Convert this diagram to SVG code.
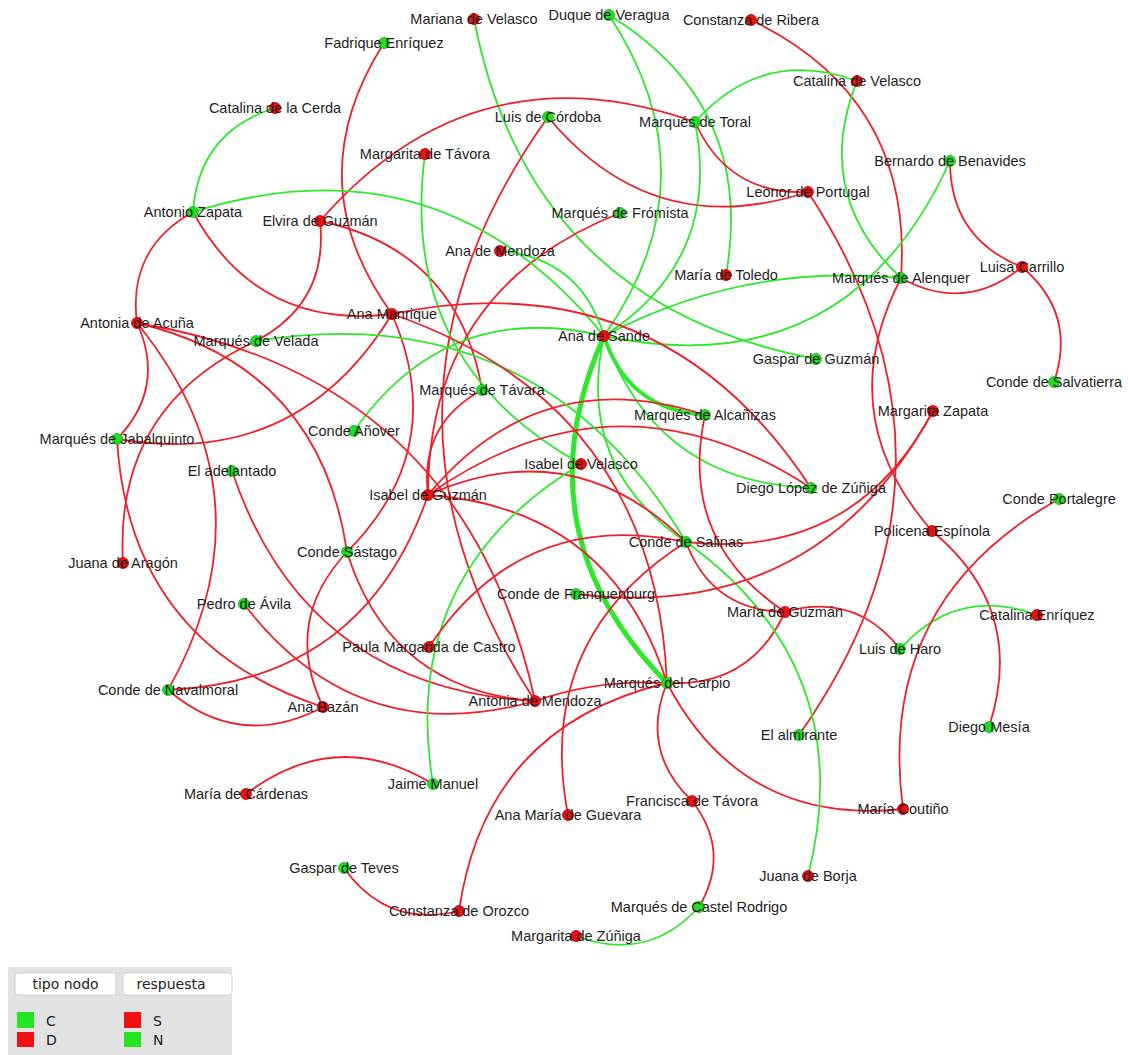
<svg xmlns="http://www.w3.org/2000/svg" width="1128" height="1055" viewBox="0 0 1128 1055">
<style>
.e{fill:none;stroke-width:1.8;stroke-linecap:round}
.r{stroke:#f0202a}
.g{stroke:#2ee82e}
.t4{stroke-width:4}
.t5{stroke-width:5}
.nr{fill:#e81010;stroke:#b80000;stroke-width:.8}
.ng{fill:#22dd22;stroke:#18b018;stroke-width:.8}
.lb{font-family:"Liberation Sans",Arial,sans-serif;font-size:14.5px;fill:#1e1e1e;text-anchor:middle}
.lg{font-family:"DejaVu Sans",sans-serif;font-size:14px;fill:#222}
</style>
<rect width="1128" height="1055" fill="#fff"/>
<g id="connectors">
<path class="e g" d="M474 19 Q529.4 305.3 816 359"/>
<path class="e g" d="M604 336 Q715.6 177.2 609 15"/>
<path class="e g" d="M726 275 Q755.9 105.2 609 15"/>
<path class="e r" d="M901 278 Q913.7 98 751 20"/>
<path class="e r" d="M384 43 Q295.9 181.2 392 314"/>
<path class="e r" d="M347 552 Q450.4 448.3 392 314"/>
<path class="e g" d="M857 81 Q762.1 46.4 695 122"/>
<path class="e g" d="M857 81 Q812 194.5 901 278"/>
<path class="e g" d="M604 336 Q722.3 259.9 695 122"/>
<path class="e r" d="M695 122 Q473.8 44 320 221"/>
<path class="e r" d="M695 122 Q727.7 195.4 808 192"/>
<path class="e r" d="M548 117 Q652.5 242.9 808 192"/>
<path class="e r" d="M548 117 Q342.9 404.6 535 701"/>
<path class="e r" d="M620 213 Q428.1 288.7 428 495"/>
<path class="e r" d="M482 390 Q458.5 250.4 320 221"/>
<path class="e r" d="M482 390 Q419.3 424.1 428 495"/>
<path class="e g" d="M425 154 Q397.6 362 581 464"/>
<path class="e r" d="M256 341 Q328.8 302.8 320 221"/>
<path class="e r" d="M256 341 Q114 406.8 123 563"/>
<path class="e g" d="M275 108 Q198.6 132.1 193 212"/>
<path class="e r" d="M193 212 Q127.3 248.5 137 323"/>
<path class="e r" d="M193 212 Q257.8 330.7 392 314"/>
<path class="e g" d="M604 336 Q440.7 134.3 193 212"/>
<path class="e r" d="M799 735 Q988.1 466.6 808 192"/>
<path class="e r" d="M901 278 Q830.5 415 932 531"/>
<path class="e r" d="M989 727 Q1027.1 609.6 932 531"/>
<path class="e r" d="M950 161 Q950 238.5 1022 267"/>
<path class="e r" d="M901 278 Q965.2 313.6 1022 267"/>
<path class="e r" d="M1054 382 Q1077.1 313.6 1022 267"/>
<path class="e g" d="M604 336 Q847 387 950 161"/>
<path class="e g" d="M901 278 Q743.8 262.4 604 336"/>
<path class="e g" d="M604 336 Q655.8 482.4 811 488"/>
<path class="e r" d="M811 488 Q660.7 258.5 392 314"/>
<path class="e g t4" d="M604 336 Q627.6 409.8 705 415"/>
<path class="e g t5" d="M604 336 Q517.5 530.9 667 683"/>
<path class="e g" d="M604 336 Q575 466.9 686 542"/>
<path class="e g" d="M604 336 Q446.7 298.5 354 431"/>
<path class="e r" d="M705 415 Q539.3 360.8 428 495"/>
<path class="e r" d="M811 488 Q617.1 361.3 428 495"/>
<path class="e r" d="M686 542 Q573 430.8 428 495"/>
<path class="e r" d="M667 683 Q611.4 507.7 428 495"/>
<path class="e r" d="M168 690 Q364.3 680.9 428 495"/>
<path class="e r" d="M168 690 Q239.7 751.2 323 707"/>
<path class="e r" d="M168 690 Q277.3 496 137 323"/>
<path class="e r" d="M117 439 Q166.4 387.8 137 323"/>
<path class="e r" d="M347 552 Q319.9 366.1 137 323"/>
<path class="e r" d="M535 701 Q464.5 376.7 137 323"/>
<path class="e r" d="M117 439 Q297 470 392 314"/>
<path class="e r" d="M117 439 Q128.9 643 323 707"/>
<path class="e r" d="M347 552 Q390.3 690.4 535 701"/>
<path class="e r" d="M347 552 Q282.3 621.3 323 707"/>
<path class="e r" d="M244 604 Q356.5 751.4 535 701"/>
<path class="e r" d="M232 471 Q305.3 689 535 701"/>
<path class="e r" d="M667 683 Q599.2 678.8 535 701"/>
<path class="e r" d="M667 683 Q750.1 687.6 785 612"/>
<path class="e r" d="M667 683 Q639.4 750.5 692 801"/>
<path class="e r" d="M667 683 Q742.2 826.2 903 809"/>
<path class="e r" d="M667 683 Q485.5 726.3 459 911"/>
<path class="e r" d="M344 868 Q386.9 928.6 459 911"/>
<path class="e r" d="M433 784 Q336.1 725.4 246 794"/>
<path class="e g" d="M581 464 Q398.2 573.7 433 784"/>
<path class="e r" d="M699 907 Q731.5 851.6 692 801"/>
<path class="e g" d="M576 936 Q647.4 963.3 699 907"/>
<path class="e g" d="M808 876 Q860.6 667.5 686 542"/>
<path class="e r" d="M686 542 Q711.7 610.7 785 612"/>
<path class="e r" d="M705 415 Q678 540.7 785 612"/>
<path class="e r" d="M900 649 Q855.1 591.4 785 612"/>
<path class="e g" d="M1037 615 Q956.9 585.4 900 649"/>
<path class="e r" d="M1059 499 Q875.6 601 903 809"/>
<path class="e r" d="M576 594 Q816.7 623.9 933 411"/>
<path class="e r" d="M686 542 Q854 560.5 933 411"/>
<path class="e r" d="M686 542 Q521.8 507.1 429 647"/>
<path class="e r" d="M686 542 Q534.2 638.4 568 815"/>
<path class="e g" d="M686 542 Q539.3 295.3 256 341"/>
<path class="e g" d="M604 336 Q580.9 258.1 500 251"/>
<path class="e r" d="M667 683 Q655 405 392 314"/>
</g>
<g id="nodes">
<g id="n-mariana-de-velasco"><circle class="nr" cx="474" cy="19" r="5.5"/><text class="lb" x="474" y="24">Mariana de Velasco</text></g>
<g id="n-duque-de-veragua"><circle class="ng" cx="609" cy="15" r="5.5"/><text class="lb" x="609" y="20">Duque de Veragua</text></g>
<g id="n-constanza-de-ribera"><circle class="nr" cx="751" cy="20" r="5.5"/><text class="lb" x="751" y="25">Constanza de Ribera</text></g>
<g id="n-fadrique-enriquez"><circle class="ng" cx="384" cy="43" r="5.5"/><text class="lb" x="384" y="48">Fadrique Enríquez</text></g>
<g id="n-catalina-de-velasco"><circle class="nr" cx="857" cy="81" r="5.5"/><text class="lb" x="857" y="86">Catalina de Velasco</text></g>
<g id="n-catalina-de-la-cerda"><circle class="nr" cx="275" cy="108" r="5.5"/><text class="lb" x="275" y="113">Catalina de la Cerda</text></g>
<g id="n-luis-de-cordoba"><circle class="ng" cx="548" cy="117" r="5.5"/><text class="lb" x="548" y="122">Luis de Córdoba</text></g>
<g id="n-marques-de-toral"><circle class="ng" cx="695" cy="122" r="5.5"/><text class="lb" x="695" y="127">Marqués de Toral</text></g>
<g id="n-margarita-de-tavora"><circle class="nr" cx="425" cy="154" r="5.5"/><text class="lb" x="425" y="159">Margarita de Távora</text></g>
<g id="n-bernardo-de-benavides"><circle class="ng" cx="950" cy="161" r="5.5"/><text class="lb" x="950" y="166">Bernardo de Benavides</text></g>
<g id="n-leonor-de-portugal"><circle class="nr" cx="808" cy="192" r="5.5"/><text class="lb" x="808" y="197">Leonor de Portugal</text></g>
<g id="n-antonio-zapata"><circle class="ng" cx="193" cy="212" r="5.5"/><text class="lb" x="193" y="217">Antonio Zapata</text></g>
<g id="n-elvira-de-guzman"><circle class="nr" cx="320" cy="221" r="5.5"/><text class="lb" x="320" y="226">Elvira de Guzmán</text></g>
<g id="n-marques-de-fromista"><circle class="ng" cx="620" cy="213" r="5.5"/><text class="lb" x="620" y="218">Marqués de Frómista</text></g>
<g id="n-ana-de-mendoza"><circle class="nr" cx="500" cy="251" r="5.5"/><text class="lb" x="500" y="256">Ana de Mendoza</text></g>
<g id="n-maria-de-toledo"><circle class="nr" cx="726" cy="275" r="5.5"/><text class="lb" x="726" y="280">María de Toledo</text></g>
<g id="n-luisa-carrillo"><circle class="nr" cx="1022" cy="267" r="5.5"/><text class="lb" x="1022" y="272">Luisa Carrillo</text></g>
<g id="n-marques-de-alenquer"><circle class="ng" cx="901" cy="278" r="5.5"/><text class="lb" x="901" y="283">Marqués de Alenquer</text></g>
<g id="n-antonia-de-acuna"><circle class="nr" cx="137" cy="323" r="5.5"/><text class="lb" x="137" y="328">Antonia de Acuña</text></g>
<g id="n-marques-de-velada"><circle class="ng" cx="256" cy="341" r="5.5"/><text class="lb" x="256" y="346">Marqués de Velada</text></g>
<g id="n-ana-manrique"><circle class="nr" cx="392" cy="314" r="5.5"/><text class="lb" x="392" y="319">Ana Manrique</text></g>
<g id="n-ana-de-sande"><circle class="nr" cx="604" cy="336" r="5.5"/><text class="lb" x="604" y="341">Ana de Sande</text></g>
<g id="n-gaspar-de-guzman"><circle class="ng" cx="816" cy="359" r="5.5"/><text class="lb" x="816" y="364">Gaspar de Guzmán</text></g>
<g id="n-conde-de-salvatierra"><circle class="ng" cx="1054" cy="382" r="5.5"/><text class="lb" x="1054" y="387">Conde de Salvatierra</text></g>
<g id="n-marques-de-tavara"><circle class="ng" cx="482" cy="390" r="5.5"/><text class="lb" x="482" y="395">Marqués de Távara</text></g>
<g id="n-conde-anover"><circle class="ng" cx="354" cy="431" r="5.5"/><text class="lb" x="354" y="436">Conde Añover</text></g>
<g id="n-marques-de-jabalquinto"><circle class="ng" cx="117" cy="439" r="5.5"/><text class="lb" x="117" y="444">Marqués de Jabalquinto</text></g>
<g id="n-marques-de-alcanizas"><circle class="ng" cx="705" cy="415" r="5.5"/><text class="lb" x="705" y="420">Marqués de Alcañizas</text></g>
<g id="n-margarita-zapata"><circle class="nr" cx="933" cy="411" r="5.5"/><text class="lb" x="933" y="416">Margarita Zapata</text></g>
<g id="n-isabel-de-velasco"><circle class="nr" cx="581" cy="464" r="5.5"/><text class="lb" x="581" y="469">Isabel de Velasco</text></g>
<g id="n-el-adelantado"><circle class="ng" cx="232" cy="471" r="5.5"/><text class="lb" x="232" y="476">El adelantado</text></g>
<g id="n-isabel-de-guzman"><circle class="nr" cx="428" cy="495" r="5.5"/><text class="lb" x="428" y="500">Isabel de Guzmán</text></g>
<g id="n-diego-lopez-de-zuniga"><circle class="ng" cx="811" cy="488" r="5.5"/><text class="lb" x="811" y="493">Diego López de Zúñiga</text></g>
<g id="n-conde-portalegre"><circle class="ng" cx="1059" cy="499" r="5.5"/><text class="lb" x="1059" y="504">Conde Portalegre</text></g>
<g id="n-policena-espinola"><circle class="nr" cx="932" cy="531" r="5.5"/><text class="lb" x="932" y="536">Policena Espínola</text></g>
<g id="n-juana-de-aragon"><circle class="nr" cx="123" cy="563" r="5.5"/><text class="lb" x="123" y="568">Juana de Aragón</text></g>
<g id="n-conde-sastago"><circle class="ng" cx="347" cy="552" r="5.5"/><text class="lb" x="347" y="557">Conde Sástago</text></g>
<g id="n-conde-de-salinas"><circle class="ng" cx="686" cy="542" r="5.5"/><text class="lb" x="686" y="547">Conde de Salinas</text></g>
<g id="n-conde-de-franquenburg"><circle class="ng" cx="576" cy="594" r="5.5"/><text class="lb" x="576" y="599">Conde de Franquenburg</text></g>
<g id="n-pedro-de-avila"><circle class="ng" cx="244" cy="604" r="5.5"/><text class="lb" x="244" y="609">Pedro de Ávila</text></g>
<g id="n-maria-de-guzman"><circle class="nr" cx="785" cy="612" r="5.5"/><text class="lb" x="785" y="617">María de Guzmán</text></g>
<g id="n-catalina-enriquez"><circle class="nr" cx="1037" cy="615" r="5.5"/><text class="lb" x="1037" y="620">Catalina Enríquez</text></g>
<g id="n-luis-de-haro"><circle class="ng" cx="900" cy="649" r="5.5"/><text class="lb" x="900" y="654">Luis de Haro</text></g>
<g id="n-paula-margarida-de-castro"><circle class="nr" cx="429" cy="647" r="5.5"/><text class="lb" x="429" y="652">Paula Margarida de Castro</text></g>
<g id="n-marques-del-carpio"><circle class="ng" cx="667" cy="683" r="5.5"/><text class="lb" x="667" y="688">Marqués del Carpio</text></g>
<g id="n-conde-de-navalmoral"><circle class="ng" cx="168" cy="690" r="5.5"/><text class="lb" x="168" y="695">Conde de Navalmoral</text></g>
<g id="n-antonia-de-mendoza"><circle class="nr" cx="535" cy="701" r="5.5"/><text class="lb" x="535" y="706">Antonia de Mendoza</text></g>
<g id="n-ana-bazan"><circle class="nr" cx="323" cy="707" r="5.5"/><text class="lb" x="323" y="712">Ana Bazán</text></g>
<g id="n-diego-mesia"><circle class="ng" cx="989" cy="727" r="5.5"/><text class="lb" x="989" y="732">Diego Mesía</text></g>
<g id="n-el-almirante"><circle class="ng" cx="799" cy="735" r="5.5"/><text class="lb" x="799" y="740">El almirante</text></g>
<g id="n-jaime-manuel"><circle class="ng" cx="433" cy="784" r="5.5"/><text class="lb" x="433" y="789">Jaime Manuel</text></g>
<g id="n-maria-de-cardenas"><circle class="nr" cx="246" cy="794" r="5.5"/><text class="lb" x="246" y="799">María de Cárdenas</text></g>
<g id="n-francisca-de-tavora"><circle class="nr" cx="692" cy="801" r="5.5"/><text class="lb" x="692" y="806">Francisca de Távora</text></g>
<g id="n-maria-coutino"><circle class="nr" cx="903" cy="809" r="5.5"/><text class="lb" x="903" y="814">María Coutiño</text></g>
<g id="n-ana-maria-de-guevara"><circle class="nr" cx="568" cy="815" r="5.5"/><text class="lb" x="568" y="820">Ana María de Guevara</text></g>
<g id="n-juana-de-borja"><circle class="nr" cx="808" cy="876" r="5.5"/><text class="lb" x="808" y="881">Juana de Borja</text></g>
<g id="n-gaspar-de-teves"><circle class="ng" cx="344" cy="868" r="5.5"/><text class="lb" x="344" y="873">Gaspar de Teves</text></g>
<g id="n-constanza-de-orozco"><circle class="nr" cx="459" cy="911" r="5.5"/><text class="lb" x="459" y="916">Constanza de Orozco</text></g>
<g id="n-marques-de-castel-rodrigo"><circle class="ng" cx="699" cy="907" r="5.5"/><text class="lb" x="699" y="912">Marqués de Castel Rodrigo</text></g>
<g id="n-margarita-de-zuniga"><circle class="nr" cx="576" cy="936" r="5.5"/><text class="lb" x="576" y="941">Margarita de Zúñiga</text></g>
</g>
<g id="legend">
<rect x="8" y="967" width="224" height="88" fill="#e2e2e2"/>
<rect x="15" y="973" width="101" height="22" rx="3" fill="#fff" stroke="#cfcfcf"/>
<rect x="123" y="973" width="109" height="22" rx="3" fill="#fff" stroke="#cfcfcf"/>
<text class="lg" x="65.5" y="989" text-anchor="middle">tipo nodo</text>
<text class="lg" x="171" y="989" text-anchor="middle">respuesta</text>
<rect x="17" y="1012" width="17" height="16" fill="#22e622"/>
<rect x="17" y="1032" width="17" height="15" fill="#ee1111"/>
<rect x="124" y="1012" width="17" height="16" fill="#ee1111"/>
<rect x="124" y="1032" width="17" height="15" fill="#22e622"/>
<text class="lg" x="46" y="1026">C</text>
<text class="lg" x="46" y="1045">D</text>
<text class="lg" x="153" y="1026">S</text>
<text class="lg" x="153" y="1045">N</text>
</g>
</svg>
